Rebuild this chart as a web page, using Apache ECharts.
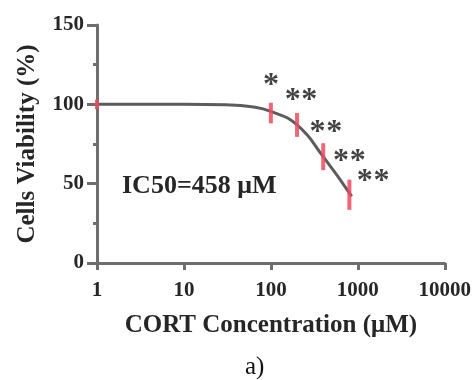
<!DOCTYPE html>
<html>
<head>
<meta charset="utf-8">
<script src="https://cdn.jsdelivr.net/npm/echarts@6/dist/echarts.min.js"></script>
<style>
  html, body { margin: 0; padding: 0; background: #fff; }
</style>
</head>
<body>
<div id="myChart" style="width: 474px; height: 380px;"></div>
<script>
  // 剂量 (μM) 与存活率 (%)
  var doses = [1, 100, 200, 400, 800];
  var viability = [100, 94.5, 87, 67, 43];
  var errors = [3, 6.5, 7.5, 8.5, 9.5];

  // 拟合曲线（从图上读取的点）
  var fitX = [1, 10, 30, 60, 100, 200, 400, 850];
  var fitY = [100, 100, 99.7, 98.5, 95.5, 87, 67, 42];

  // 显著性星号位置
  var starX = [100, 178, 277, 343, 534, 641, 1000, 1200, 1875];
  var starY = [117.7, 108, 108, 88, 88, 69.6, 69.6, 57, 57];

  var xTicks = [1, 10, 100, 1000, 10000];
  var yTicks = [0, 50, 100, 150];

  var serif = '"Liberation Serif", "Times New Roman", serif';
  var axisColor = '#6e6e6e';
  var textColor = '#262626';

  var myChart = echarts.init(document.getElementById('myChart'));

  myChart.setOption({
    backgroundColor: '#fff',
    animation: false,
    grid: { left: 97, right: 24, top: 25, bottom: 117 },
    xAxis: {
      type: 'log',
      logBase: 10,
      min: xTicks[0],
      max: xTicks[xTicks.length - 1],
      name: 'CORT Concentration (μM)',
      nameLocation: 'middle',
      nameGap: 50,
      nameTextStyle: { fontFamily: serif, fontWeight: 'bold', fontSize: 25, color: textColor },
      axisLine: { lineStyle: { color: axisColor, width: 3 } },
      axisTick: { length: 7, lineStyle: { color: axisColor, width: 3 } },
      axisLabel: {
        fontFamily: serif, fontWeight: 'bold', fontSize: 21, color: textColor, margin: 17,
        showMaxLabel: true,
        formatter: function (v) { return String(Math.round(v)); }
      },
      splitLine: { show: false },
      minorTick: { show: false }
    },
    yAxis: {
      type: 'value',
      min: yTicks[0],
      max: yTicks[yTicks.length - 1],
      interval: 50,
      name: 'Cells Viability (%)',
      nameLocation: 'middle',
      nameRotate: 90,
      nameGap: 57,
      nameTextStyle: { fontFamily: serif, fontWeight: 'bold', fontSize: 25, color: textColor },
      axisLine: { show: true, lineStyle: { color: axisColor, width: 3 } },
      axisTick: { show: true, length: 10, lineStyle: { color: axisColor, width: 3 } },
      minorTick: { show: true, splitNumber: 2, length: 4, lineStyle: { color: axisColor, width: 3 } },
      axisLabel: { fontFamily: serif, fontWeight: 'bold', fontSize: 21, color: textColor, margin: 13 },
      splitLine: { show: false }
    },
    graphic: [
      {
        type: 'text', left: 122, top: 173,
        style: { text: 'IC50=458 μM', font: 'bold 26px ' + serif, fill: textColor }
      },
      {
        type: 'text', left: 245, top: 355,
        style: { text: 'a)', font: '25px ' + serif, fill: '#111' }
      }
    ],
    series: [
      {
        name: 'fit',
        type: 'line',
        smooth: true,
        showSymbol: false,
        data: fitX.map(function (x, i) { return [x, fitY[i]]; }),
        lineStyle: { color: '#5c5c5c', width: 3 },
        z: 2
      },
      {
        name: 'error',
        type: 'custom',
        data: doses.map(function (x, i) { return [x, viability[i], errors[i]]; }),
        renderItem: function (params, api) {
          var x = api.value(0), y = api.value(1), e = api.value(2);
          var top = api.coord([x, y + e]);
          var bot = api.coord([x, y - e]);
          return {
            type: 'line',
            shape: { x1: top[0], y1: top[1], x2: bot[0], y2: bot[1] },
            style: { stroke: '#ee4a5c', lineWidth: 4, opacity: 0.85 }
          };
        },
        z: 3
      },
      {
        name: 'stars',
        type: 'scatter',
        symbolSize: 0,
        data: starX.map(function (x, i) { return [x, starY[i]]; }),
        label: {
          show: true,
          position: 'inside',
          formatter: '*',
          fontFamily: serif,
          fontWeight: 'bold',
          fontSize: 32,
          color: '#111',
          offset: [0, 9]
        },
        z: 4
      }
    ]
  });
</script>
</body>
</html>
